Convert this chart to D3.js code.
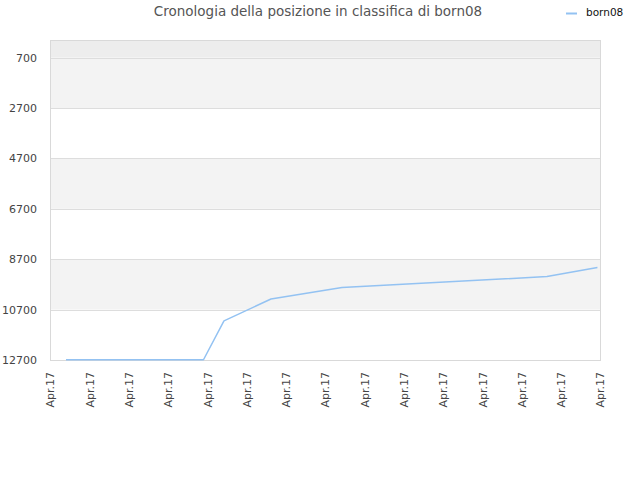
<!DOCTYPE html>
<html>
<head>
<meta charset="utf-8">
<script src="https://cdn.jsdelivr.net/npm/d3@7"></script>
<style>
  body { margin: 0; background: #fff; }
  svg { font-family: "DejaVu Sans", sans-serif; }
</style>
</head>
<body>
<svg></svg>
<script>
// data
var seriesName = 'born08';
var times = ['2017-04-01T09:46', '2017-04-04T21:46', '2017-04-05T10:17', '2017-04-06T15:00',
             '2017-04-08T10:22', '2017-04-13T15:36', '2017-04-14T22:26'];
var ranks = [12690, 12690, 11150, 10280, 9820, 9390, 9030];
var yTicks = [700, 2700, 4700, 6700, 8700, 10700, 12700];
var xStart = '2017-04-01', xEnd = '2017-04-15';

var svgWidth = 640, svgHeight = 480;
var margin = { top: 40, right: 40, bottom: 120, left: 50 };

var svg = d3.select('svg')
	.attr('width', svgWidth)
	.attr('height', svgHeight);

var parse = d3.timeParse('%Y-%m-%dT%H:%M');
var data = times.map(function(t, i) { return { x: parse(t), y: ranks[i] }; });

var x = d3.scaleTime()
	.domain([new Date(xStart + 'T00:00'), new Date(xEnd + 'T00:00')])
	.range([margin.left, svgWidth - margin.right]);

var y = d3.scaleLinear()
	.domain([0, 12700])
	.range([margin.top, svgHeight - margin.bottom]);

/*
bands behind the plot
*/
svg.append('rect')
	.attr('x', x.range()[0]).attr('width', x.range()[1] - x.range()[0])
	.attr('y', y(0)).attr('height', y(yTicks[0]) - y(0))
	.attr('fill', '#ededed');

for (var i = 0; i < yTicks.length - 1; i += 2) {
	svg.append('rect')
		.attr('x', x.range()[0]).attr('width', x.range()[1] - x.range()[0])
		.attr('y', y(yTicks[i])).attr('height', y(yTicks[i + 1]) - y(yTicks[i]))
		.attr('fill', '#f3f3f3');
}

// grid lines
svg.append('g')
	.selectAll('line')
	.data(yTicks)
	.enter().append('line')
	  .attr('x1', x.range()[0]).attr('x2', x.range()[1])
	  .attr('y1', function(d) { return Math.round(y(d)) + 0.5; })
	  .attr('y2', function(d) { return Math.round(y(d)) + 0.5; })
	  .attr('stroke', '#dddddd');

// plot border
svg.append('rect')
	.attr('x', x.range()[0] + 0.5).attr('y', y(0) + 0.5)
	.attr('width', x.range()[1] - x.range()[0])
	.attr('height', y(12700) - y(0))
	.attr('fill', 'none')
	.attr('stroke', '#d9d9d9');

/*
axes
*/
var yAxis = svg.append('g')
	.attr('transform', 'translate(' + (margin.left - 10) + ',0)')
	.call(d3.axisLeft(y).tickValues(yTicks).tickSize(0).tickFormat(d3.format('d')));
yAxis.select('.domain').remove();
yAxis.selectAll('text')
	.attr('font-size', 11).attr('fill', '#444').attr('font-family', '"DejaVu Sans", sans-serif');

var xAxis = svg.append('g')
	.attr('transform', 'translate(0,' + (svgHeight - margin.bottom) + ')')
	.call(d3.axisBottom(x).ticks(d3.timeDay.every(1)).tickSize(0).tickFormat(d3.timeFormat('%b.%y')));
xAxis.select('.domain').remove();
xAxis.selectAll('text')
	.attr('font-size', 11).attr('fill', '#444').attr('font-family', '"DejaVu Sans", sans-serif')
	.attr('transform', 'rotate(-90)')
	.attr('text-anchor', 'end')
	.attr('x', -12).attr('y', 0).attr('dy', '0.35em');

/*
the line
*/
var line = d3.line()
	.x(function(d) { return x(d.x); })
	.y(function(d) { return y(d.y); });

svg.append('path')
	.datum(data)
	.attr('fill', 'none')
	.attr('stroke', '#93c2f2')
	.attr('stroke-width', 1.5)
	.attr('stroke-linejoin', 'round')
	.attr('d', line);

// title and legend
svg.append('text')
	.attr('x', 318).attr('y', 16)
	.attr('text-anchor', 'middle')
	.attr('font-size', 13.5).attr('fill', '#555')
	.text('Cronologia della posizione in classifica di born08');

svg.append('line')
	.attr('x1', 566).attr('x2', 577).attr('y1', 13.5).attr('y2', 13.5)
	.attr('stroke', '#93c2f2').attr('stroke-width', 2);
svg.append('text')
	.attr('x', 586).attr('y', 16)
	.attr('font-size', 10.5).attr('fill', '#111')
	.text(seriesName);
</script>
</body>
</html>
